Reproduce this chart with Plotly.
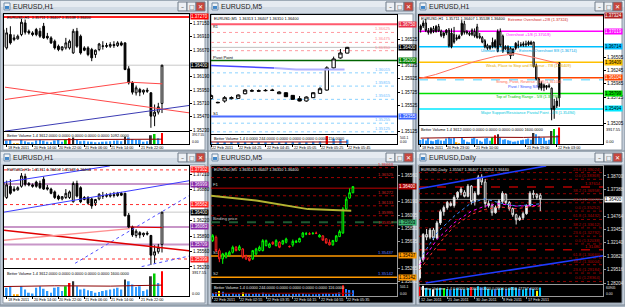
import plotly.graph_objects as go

# ============================== DATA ==============================
# ---- EURUSD H1 : 55 hourly bars (the first 12 only appear in the upper-right window)
h1_open = [1.37050, 1.37120, 1.37180, 1.37030, 1.36990, 1.37070, 1.37010, 1.37110, 1.37020, 1.36930, 1.36980, 1.37040,
           1.36712, 1.36952, 1.36862, 1.36874, 1.36952, 1.37162, 1.37012, 1.36982, 1.37042, 1.37012, 1.37102, 1.36922,
           1.36892, 1.36832, 1.36742, 1.36682, 1.36712, 1.36712, 1.36622, 1.37012, 1.36922, 1.36712, 1.36712, 1.36682,
           1.36592, 1.36682, 1.36742, 1.36754, 1.36742, 1.36772, 1.36754, 1.36802, 1.36802, 1.36334, 1.36082, 1.35902,
           1.35962, 1.35914, 1.35950, 1.35902, 1.35482, 1.35554, 1.35711]
h1_high = [1.37150, 1.37230, 1.37260, 1.37080, 1.37100, 1.37120, 1.37140, 1.37160, 1.37050, 1.37010, 1.37060, 1.37080,
           1.37072, 1.37102, 1.36952, 1.36952, 1.37234, 1.37222, 1.37042, 1.37012, 1.37072, 1.37072, 1.37162, 1.36982,
           1.36922, 1.36862, 1.36772, 1.36742, 1.36892, 1.36862, 1.37054, 1.37072, 1.36952, 1.36742, 1.36742, 1.36712,
           1.36682, 1.36802, 1.36832, 1.36802, 1.36814, 1.36832, 1.36832, 1.36832, 1.36814, 1.36382, 1.36112, 1.36034,
           1.35992, 1.35962, 1.35992, 1.35914, 1.35692, 1.35722, 1.36407]
h1_low = [1.36990, 1.37080, 1.37000, 1.36950, 1.36960, 1.36980, 1.36990, 1.37000, 1.36900, 1.36880, 1.36940, 1.36700,
          1.36682, 1.36772, 1.36832, 1.36862, 1.36922, 1.36952, 1.36952, 1.36922, 1.36922, 1.36892, 1.36874, 1.36862,
          1.36782, 1.36682, 1.36652, 1.36652, 1.36682, 1.36682, 1.36604, 1.36712, 1.36592, 1.36652, 1.36562, 1.36472,
          1.36532, 1.36652, 1.36682, 1.36712, 1.36712, 1.36712, 1.36730, 1.36742, 1.36310, 1.36052, 1.35872, 1.35854,
          1.35842, 1.35872, 1.35902, 1.35272, 1.35302, 1.35512, 1.35538]
h1_close = [1.37120, 1.37180, 1.37030, 1.36990, 1.37070, 1.37010, 1.37110, 1.37020, 1.36930, 1.36980, 1.37040, 1.36730,
            1.36982, 1.36802, 1.36892, 1.36922, 1.37174, 1.36994, 1.36982, 1.36952, 1.36952, 1.36922, 1.36892, 1.36892,
            1.36802, 1.36712, 1.36682, 1.36730, 1.36802, 1.36832, 1.37012, 1.36742, 1.36622, 1.36670, 1.36592, 1.36532,
            1.36670, 1.36782, 1.36745, 1.36742, 1.36772, 1.36754, 1.36802, 1.36762, 1.36322, 1.36082, 1.35914, 1.35992,
            1.35914, 1.35950, 1.35932, 1.35482, 1.35554, 1.35650, 1.36400]
h1_volume = [900, 1100, 800, 1300, 700, 600, 900, 1000, 800, 700, 1200, 1500,
             1200, 1340, 240, 150, 1440, 960, 480, 380, 1200, 1440, 1060, 720, 480, 1200, 1340, 720, 1440, 1920,
             2160, 1440, 960, 1060, 860, 720, 480, 580, 720, 860, 960, 1060, 1200, 960, 2400, 2160, 1680, 1340,
             1440, 720, 960, 2880, 3300, 1920, 3612]
h1_vol_kind = ("bbbbbbbbbbbb" "bbyy" "bbbbbbbbbbbb" "grk" "bbbbbbbbbbbbb" "k" "bbbbbb" "kgbr")
h1_vol_ma_idx = [0, 12, 25, 40, 54]
h1_vol_ma = [1300, 1400, 1500, 1450, 1600]
h1_hdr = "EURUSD,H1  1.35711 1.36407 1.35538 1.36400"
h1_last = 1.36400
h1_ticks_a = [12, 19, 26, 33, 40, 48]
h1_labels_a = ["18 Feb 2011", "20 Feb 14:00", "20 Feb 22:00", "21 Feb 06:00", "21 Feb 14:00", "21 Feb 22:00"]
h1_ticks_b = [0, 10, 21, 41, 53]
h1_labels_b = ["18 Feb 2011", "20 Feb 23:00", "21 Feb 10:00", "21 Feb 19:00", "22 Feb 03:00"]

# ---- EURUSD M5 : 43 bars
m5_open = [1.35649, 1.35695, 1.35511, 1.35396, 1.35419, 1.35450, 1.35488, 1.35557, 1.35520, 1.35534, 1.35442, 1.35410,
           1.35396, 1.35465, 1.35511, 1.35511, 1.35580, 1.35557, 1.35626, 1.35580, 1.35626, 1.35603, 1.35626,
           1.35570, 1.35590, 1.35625, 1.35630, 1.35700, 1.35740, 1.35745, 1.35745, 1.35755, 1.35700, 1.35715,
           1.35675, 1.35625, 1.35590, 1.35640, 1.35705, 1.35755, 1.36090, 1.36240, 1.36313]
m5_high = [1.35740, 1.35720, 1.35540, 1.35480, 1.35490, 1.35510, 1.35580, 1.35575, 1.35590, 1.35545, 1.35455, 1.35430,
           1.35520, 1.35550, 1.35580, 1.35670, 1.35665, 1.35620, 1.35640, 1.35670, 1.35640, 1.35660, 1.35690,
           1.35580, 1.35665, 1.35660, 1.35690, 1.35770, 1.35770, 1.35765, 1.35770, 1.35775, 1.35740, 1.35725,
           1.35680, 1.35665, 1.35660, 1.35725, 1.35800, 1.36115, 1.36260, 1.36375, 1.36407]
m5_low = [1.35630, 1.35490, 1.35350, 1.35327, 1.35400, 1.35430, 1.35470, 1.35500, 1.35505, 1.35400, 1.35380, 1.35360,
          1.35380, 1.35450, 1.35500, 1.35500, 1.35570, 1.35545, 1.35590, 1.35570, 1.35545, 1.35590, 1.35610,
          1.35555, 1.35565, 1.35615, 1.35625, 1.35690, 1.35725, 1.35730, 1.35735, 1.35740, 1.35695, 1.35650,
          1.35610, 1.35585, 1.35580, 1.35635, 1.35700, 1.35745, 1.36080, 1.36230, 1.36310]
m5_close = [1.35718, 1.35511, 1.35396, 1.35465, 1.35474, 1.35488, 1.35557, 1.35511, 1.35565, 1.35419, 1.35396, 1.35373,
            1.35511, 1.35534, 1.35557, 1.35649, 1.35649, 1.35603, 1.35603, 1.35649, 1.35557, 1.35649, 1.35672,
            1.35565, 1.35640, 1.35640, 1.35680, 1.35755, 1.35745, 1.35740, 1.35750, 1.35750, 1.35725, 1.35655,
            1.35615, 1.35590, 1.35650, 1.35715, 1.35775, 1.36090, 1.36225, 1.36315, 1.36400]
m5_volume = [130, 160, 210, 180, 110, 90, 120, 80, 100, 150, 130, 110, 90, 120, 100, 140, 90, 80, 70, 90, 110, 80, 90,
             80, 100, 90, 110, 120, 70, 60, 70, 60, 90, 110, 120, 100, 90, 130, 150, 450, 300, 260, 244]
m5_vol_kind = ("bbybbbbbbybbbbbbbbbbbbb" "bbbbbbbbbbbbbbbbrbbb")
m5_vol_ma_idx = [0, 20, 42]
m5_vol_ma = [118, 112, 116]
m5_hdr = "EURUSD,M5  1.36313 1.36407 1.36310 1.36400"
m5_ticks_a = [22, 26, 30, 34, 38, 42]
m5_labels_a = ["22 Feb 2011", "22 Feb 04:25", "22 Feb 04:45", "22 Feb 05:05", "22 Feb 05:25", "22 Feb 05:45"]
m5_ticks_b = [0, 8, 16, 24, 32, 40]
m5_labels_b = ["22 Feb 2011", "22 Feb 02:55", "22 Feb 03:35", "22 Feb 04:15", "22 Feb 04:55", "22 Feb 05:35"]

# ---- EURUSD Daily : 36 bars
d_open = [1.2870, 1.3050, 1.3296, 1.3270, 1.3340, 1.3263, 1.3410, 1.3520, 1.3560, 1.3600, 1.3580, 1.3660,
          1.3710, 1.3710, 1.3670, 1.3770, 1.3620, 1.3690, 1.3860, 1.3810, 1.3600, 1.3580, 1.3510, 1.3560,
          1.3620, 1.3690, 1.3610, 1.3550, 1.3490, 1.3440, 1.3460, 1.3500, 1.3580, 1.3700, 1.3690, 1.3680]
d_high = [1.3080, 1.3310, 1.3350, 1.3360, 1.3360, 1.3430, 1.3540, 1.3580, 1.3625, 1.3620, 1.3680, 1.3720,
          1.3760, 1.3730, 1.3790, 1.3780, 1.3720, 1.3880, 1.3886, 1.3840, 1.3630, 1.3600, 1.3580, 1.3640,
          1.3720, 1.3700, 1.3625, 1.3560, 1.3500, 1.3480, 1.3520, 1.3590, 1.3720, 1.3730, 1.3700, 1.3700]
d_low = [1.2853, 1.3030, 1.3240, 1.3250, 1.3240, 1.3250, 1.3390, 1.3480, 1.3540, 1.3570, 1.3560, 1.3640,
         1.3680, 1.3660, 1.3660, 1.3590, 1.3580, 1.3680, 1.3780, 1.3560, 1.3560, 1.3480, 1.3500, 1.3540,
         1.3600, 1.3590, 1.3530, 1.3470, 1.3394, 1.3430, 1.3440, 1.3490, 1.3570, 1.3650, 1.3640, 1.3525]
d_close = [1.3050, 1.3296, 1.3270, 1.3340, 1.3263, 1.3410, 1.3520, 1.3560, 1.3610, 1.3580, 1.3660, 1.3710,
           1.3740, 1.3670, 1.3770, 1.3620, 1.3700, 1.3860, 1.3810, 1.3600, 1.3580, 1.3510, 1.3560, 1.3625,
           1.3700, 1.3610, 1.3550, 1.3490, 1.3440, 1.3460, 1.3500, 1.3580, 1.3700, 1.3690, 1.3660, 1.3640]
d_volume = [52000, 58000, 45000, 40000, 38000, 42000, 47000, 44000, 39000, 35000, 41000, 43000, 40000, 38000,
            45000, 50000, 42000, 55000, 48000, 52000, 40000, 36000, 38000, 42000, 45000, 40000, 44000, 50000,
            47000, 38000, 36000, 42000, 45000, 40000, 30000, 47757]
d_vol_kind = ("rwccwccgcb" "ccbccrccbc" "ccbccbcccb" "ccbcyc")
d_hdr = "EURUSD,Daily  1.35567 1.36407 1.35254 1.36440"
d_ticks = [0, 8, 16, 24, 31]
d_labels = ["12 Jan 2011", "21 Jan 2011", "30 Jan 2011", "8 Feb 2011", "17 Feb 2011"]

# ---- indicator objects
w1_top_level = 1.37270
w1_red1 = ([11.55, 61.3], [1.36004, 1.35542])
w1_red2 = ([11.55, 45.3, 54.1], [1.35782, 1.36094, 1.36064])
w1_blue = ([11.55, 61.3], [1.35212, 1.35674])
w1_ticks = [1.37150, 1.36910, 1.36670, 1.36190, 1.35950, 1.35710, 1.35470, 1.35230]

w2_r1, w2_pivot, w2_s1 = 1.36750, 1.36200, 1.35355
w2_upper_dots = [1.36625, 1.36475, 1.36350]
w2_lower_dots = [1.36015, 1.35815, 1.35615, 1.35255, 1.35125]
w2_ma_dark = ([22.0, 31.3], [1.36125, 1.36090])
w2_ma_light = ([31.3, 34.5, 41.6], [1.36090, 1.36065, 1.36065])
w2_ticks = [1.36525, 1.36125, 1.35925, 1.35725, 1.35525, 1.35125]

w3_levels = [1.37324, 1.37019, 1.36714, 1.36409, 1.36104, 1.35799, 1.35494]
w3_names = ["Extreme Overshoot +2/8", "Overshoot +1/8", "Ultimate Resistance - Extreme Overshoot 8/8",
            "Weak, Place to Stop and Reverse - 7/8", "Strong, Pivot, Reverse - 6/8",
            "Top of Trading Range - 5/8", "Major Support/Resistance Pivotal Point - 4/8"]
w3_label_pos = [46, 42, 42, 42, 42, 42, 42]
w3_dashed = 1.36065
w3_ma = ([-0.4, 5.8, 13.6, 21.4, 29.2, 37.0, 42.2, 47.4, 53.9],
         [1.36091, 1.36169, 1.36299, 1.36428, 1.36526, 1.36578, 1.36526, 1.36461, 1.36383])
w3_ticks = [1.36505, 1.36245, 1.35985, 1.35725, 1.35205]

w4_red_levels = [1.37302, 1.36562, 1.35399]
w4_purple_levels = [1.36999, 1.36083, 1.35709]
w4_blue_solid = [([11.3, 39.9], [1.37034, 1.37387]), ([11.3, 61.3], [1.36400, 1.37070])]
w4_blue_dotted = [([30.5, 61.3], [1.35307, 1.36752]), ([48.5, 61.3], [1.35237, 1.35462])]
w4_red_thick = ([11.3, 61.3], [1.36012, 1.35575])
w4_salmon = ([11.3, 45.3], [1.35801, 1.36048])
w4_red_thin = ([45.3, 54.1], [1.36083, 1.36069])
w4_ticks = [1.37210, 1.36880, 1.36220, 1.35890, 1.35560, 1.35230]

w5_red_dots = [1.36663, 1.36525, 1.36272, 1.36133, 1.35995, 1.35857]
w5_f1 = 1.36378
w5_binding = 1.35903
w5_s1, w5_s2 = 1.35437, 1.35142
w5_ma = ([-0.5, 13.5, 28.5, 41.5], [1.36272, 1.36203, 1.36087, 1.36064])
w5_ticks = [1.36560, 1.36190, 1.36005, 1.35820, 1.35635, 1.35265, 1.35080]

w6_fib_levels = [1.39024, 1.38368, 1.37614, 1.36958, 1.36072, 1.35252, 1.34432, 1.33612, 1.32792, 1.32038,
                 1.31480, 1.30660, 1.30004, 1.29184, 1.28364]
w6_fib_names = ["23.6", "0.0", "", "38.2", "23.6", "0.0", "61.8", "38.2", "23.6", "0.0", "", "61.8", "38.2", "23.6", "0.0"]
w6_upper = ([-0.2, 36.7], [1.37450, 1.39680])
w6_lower = ([1.75, 53.2], [1.28200, 1.30890])
w6_ma_idx = [0, 5, 10, 15, 19, 23, 28, 32, 35]
w6_ma_blue = [1.30496, 1.33120, 1.34760, 1.36072, 1.36466, 1.36072, 1.35744, 1.35908, 1.35974]
w6_ma_magenta = [1.30004, 1.32464, 1.34104, 1.35252, 1.35744, 1.35974, 1.35744, 1.35744, 1.35810]
w6_ma_red = [1.29512, 1.31808, 1.33776, 1.34924, 1.35416, 1.35678, 1.35482, 1.35678, 1.35744]
w6_ticks = [1.38700, 1.37388, 1.34764, 1.33452, 1.32140, 1.30828, 1.29516, 1.28204]

# ============================== FIGURE ==============================
FW, FH = 625, 307
FONT = "Liberation Sans"
TS = 4.5
DS = 3.8   # date-label size
HS = 3.9   # header size


def fx(p):
    return p / FW


def fy(p):
    return 1 - p / FH


def aid(i):
    return '' if i == 1 else str(i)


layout = dict(width=FW, height=FH, margin=dict(l=0, r=0, t=0, b=0, pad=0),
              paper_bgcolor='#a9b4c1', plot_bgcolor='rgba(0,0,0,0)', showlegend=False,
              font=dict(family=FONT, size=TS), hovermode=False)
shapes, annotations, traces = [], [], []


def text(t, x, y, xref='paper', yref='paper', xanchor='left', yanchor='middle', size=TS, color='#000000',
         bg=None, family=FONT):
    a = dict(text=t, x=x, y=y, xref=xref, yref=yref, xanchor=xanchor, yanchor=yanchor, showarrow=False,
             font=dict(family=family, size=size, color=color), borderpad=0)
    if bg:
        a['bgcolor'] = bg
    annotations.append(a)


def prect(x0, y0, x1, y1, fill, line=None):
    shapes.append(dict(type='rect', xref='paper', yref='paper', x0=fx(x0), x1=fx(x1), y0=fy(y1), y1=fy(y0),
                       fillcolor=fill, line=dict(color=line or fill, width=1 if line else 0), layer='below'))


# ---- window chrome
windows = [(0, 0, 208, 153, "EURUSD,H1", False), (208, 0, 416, 153, "EURUSD,M5", False),
           (416, 0, 625, 153, "EURUSD,H1", False), (0, 152, 208, 307, "EURUSD,H1", False),
           (208, 152, 416, 307, "EURUSD,M5", True), (416, 152, 625, 307, "EURUSD,Daily", True)]
for (x0, y0, x1, y1, title, dark) in windows:
    prect(x0, y0, x1, y1, '#c3cdd9', '#7d8995')
    prect(x0 + 1, y0 + 1, x1 - 1, y0 + 7, '#e6ebf1')
    prect(x0 + 1, y0 + 7, x1 - 1, y0 + 13, '#d2dbe5')
    prect(x0 + 3, y0 + 14, x1 - 3, y1 - 2, '#000000' if dark else '#ffffff', '#8e99a5')
    prect(x0 + 4, y0 + 3, x0 + 10, y0 + 10, '#f4f6f8', '#6f8aa6')
    prect(x0 + 5, y0 + 6, x0 + 9, y0 + 9, '#3f86c9')
    text(title, fx(x0 + 12), fy(y0 + 7), size=7, color='#1e1e1e')
    for bx, col, glyph, gc in ((x1 - 30, '#edf0f4', '–', '#333333'), (x1 - 21, '#edf0f4', '□', '#333333'),
                               (x1 - 12, '#c8473e', '✕', '#ffffff')):
        prect(bx, y0 + 2, bx + 9, y0 + 11, col, '#6e7a88')
        text(glyph, fx(bx + 4.5), fy(y0 + 6.5), xanchor='center', size=6, color=gc, family='DejaVu Sans')

VCOL_LIGHT = {'b': '#2f9bff', 'g': '#00cc00', 'r': '#ff0000', 'k': '#303030', 'y': '#ffa500', 'w': '#ffffff',
              'c': '#00bfff'}
VCOL_DARK = {'b': '#1e78ff', 'g': '#00ff00', 'r': '#ff0000', 'k': '#c0c0c0', 'y': '#ffff00', 'w': '#ffffff',
             'c': '#00c8ff'}


def add_panel(n, geo, xr, yr, vr, vtext, yticks, dticks, dlabels, dark):
    x0, x1, py0, py1, vy0, vy1 = geo
    pi, vi = 2 * n + 1, 2 * n + 2
    fg = '#e6e6e6' if dark else '#000000'
    frame = '#9a9a9a' if dark else '#000000'
    base = dict(showgrid=False, zeroline=False, showline=True, mirror=True, linecolor=frame, linewidth=1,
                fixedrange=True)
    tf = dict(family=FONT, size=TS, color=fg)
    layout['xaxis' + aid(pi)] = dict(base, domain=[fx(x0), fx(x1)], range=xr, anchor='y' + aid(pi),
                                     showticklabels=False, ticks='', rangeslider=dict(visible=False))
    layout['yaxis' + aid(pi)] = dict(base, domain=[fy(py1), fy(py0)], range=yr, anchor='x' + aid(pi),
                                     side='right', tickmode='array', tickvals=yticks,
                                     ticktext=[f'{t:.5f}' for t in yticks], ticks='outside', ticklen=2,
                                     tickcolor=frame, tickfont=tf)
    layout['xaxis' + aid(vi)] = dict(base, domain=[fx(x0), fx(x1)], range=xr, anchor='y' + aid(vi),
                                     showticklabels=False, tickmode='array', tickvals=dticks, ticks='outside',
                                     ticklen=2, tickcolor=frame)
    layout['yaxis' + aid(vi)] = dict(base, domain=[fy(vy1), fy(vy0)], range=vr, anchor='x' + aid(vi),
                                     side='right', showticklabels=False, ticks='')
    # volume scale labels (top value and zero)
    vs = 3.4 if (vy1 - vy0) < 14 else 3.9
    text(vtext, fx(x1 + 2), fy(vy0 - 0.3), yanchor='top', size=vs, color=fg)
    text('0.00', fx(x1 + 2), fy(vy1 + 0.6), yanchor='bottom', size=vs, color=fg)
    for t, lab in zip(dticks, dlabels):
        text(lab, t, fy(vy1 + 0.8), xref='x' + aid(vi), yanchor='top', size=DS, color=fg)
    return dict(xp='x' + aid(pi), yp='y' + aid(pi), xv='x' + aid(vi), yv='y' + aid(vi), xr=xr, x0=x0, x1=x1,
                py0=py0, vy0=vy0, fg=fg, dark=dark)


def candles(g, o, h, l, c, inc_line, inc_fill, dec_line, dec_fill):
    traces.append(go.Candlestick(x=list(range(len(o))), open=o, high=h, low=l, close=c, xaxis=g['xp'],
                                 yaxis=g['yp'], whiskerwidth=0,
                                 increasing=dict(line=dict(color=inc_line, width=1), fillcolor=inc_fill),
                                 decreasing=dict(line=dict(color=dec_line, width=1), fillcolor=dec_fill)))


def volume(g, v, kinds, bw, ma=None, hdr=''):
    cmap = VCOL_DARK if g['dark'] else VCOL_LIGHT
    traces.append(go.Bar(x=list(range(len(v))), y=v, width=bw, marker=dict(color=[cmap[k] for k in kinds],
                                                                            line=dict(width=0)),
                         xaxis=g['xv'], yaxis=g['yv']))
    if ma:
        traces.append(go.Scatter(x=ma[0], y=ma[1], mode='lines', line=dict(color='#8b0000', width=1),
                                 xaxis=g['xv'], yaxis=g['yv']))
    text(hdr, fx(g['x0'] + 1.5), fy(g['vy0'] + 0.3), yanchor='top', size=HS, color=g['fg'])


def hline(g, level, color, width=1, dash='solid'):
    shapes.append(dict(type='line', xref=g['xp'], yref=g['yp'], x0=g['xr'][0], x1=g['xr'][1], y0=level,
                       y1=level, line=dict(color=color, width=width, dash=dash), layer='below'))


def pline(g, xs, ys, color, width=1, dash='solid'):
    traces.append(go.Scatter(x=xs, y=ys, mode='lines', line=dict(color=color, width=width, dash=dash),
                             xaxis=g['xp'], yaxis=g['yp']))


def pbox(g, level, bg, fc='#ffffff', label=None):
    text(label or f'{level:.5f}', fx(g['x1'] + 1), level, yref=g['yp'], color=fc, bg=bg)


def header(g, t):
    text(t, fx(g['x0'] + 1.5), fy(g['py0'] + 0.2), yanchor='top', size=HS, color=g['fg'])


def ltext(g, t, x, y, color, xanchor='left', yanchor='bottom', size=TS):
    text(t, x, y, xref=g['xp'], yref=g['yp'], xanchor=xanchor, yanchor=yanchor, color=color, size=size)


# ---------------- window 1 : H1 white ----------------
g1 = add_panel(0, (4, 189, 14, 132, 133, 145), [11.28, 61.3], [1.35212, 1.37324], [0, 3917.55], '3917.55',
               w1_ticks, h1_ticks_a, h1_labels_a, False)
hline(g1, w1_top_level, '#ff2020', 2)
hline(g1, h1_last, '#c8c8c8', 1)
pline(g1, *w1_red1, '#ff4848', 1)
pline(g1, *w1_red2, '#ff4848', 1)
pline(g1, *w1_blue, '#3c3cb4', 1)
candles(g1, h1_open, h1_high, h1_low, h1_close, '#000000', '#ffffff', '#000000', '#000000')
volume(g1, h1_volume, h1_vol_kind, 0.5, (h1_vol_ma_idx, h1_vol_ma),
       "Better Volume 1.4 3612.0000 0.0000 0.0000 0.0000 0.0000 1092.0000")
header(g1, h1_hdr)
pbox(g1, w1_top_level, '#ff0000')
pbox(g1, h1_last, '#000000')

# ---------------- window 2 : M5 white ----------------
g2 = add_panel(1, (211, 397, 15, 135, 136, 145), [22.0, 49.3], [1.35090, 1.36890], [0, 501.1], '501.1',
               w2_ticks, m5_ticks_a, m5_labels_a, False)
hline(g2, w2_r1, '#ff5a6e', 2)
for lv in w2_upper_dots:
    hline(g2, lv, '#ff9aa0', 1, 'dot')
    ltext(g2, f'{lv:.5f}', 48.6, lv, '#ff8c96', xanchor='right', size=4.2)
hline(g2, h1_last, '#c0c0c0', 1)
hline(g2, w2_pivot, '#006400', 1.5)
for lv in w2_lower_dots:
    hline(g2, lv, '#8cd2ff', 1, 'dot')
    ltext(g2, f'{lv:.5f}', 48.6, lv, '#6ec0ff', xanchor='right', size=4.2)
hline(g2, w2_s1, '#4a6cff', 2)
pline(g2, *w2_ma_dark, '#4646ff', 1.5)
pline(g2, *w2_ma_light, '#b0b0ff', 2)
candles(g2, m5_open, m5_high, m5_low, m5_close, '#000000', '#ffffff', '#000000', '#000000')
volume(g2, m5_volume, m5_vol_kind, 0.35, (m5_vol_ma_idx, m5_vol_ma),
       "Better Volume 1.4 0.0000 244.0000 0.0000 0.0000 0.0000 0.0000 116.0000")
header(g2, m5_hdr)
ltext(g2, "R1", 22.2, w2_r1, '#000000', yanchor='top', size=3.8)
ltext(g2, "Pivot Point", 22.2, w2_pivot, '#000000', size=4.2)
ltext(g2, "S1", 22.2, w2_s1, '#000000', size=4.2)
pbox(g2, w2_r1, '#e8304a')
pbox(g2, h1_last, '#000000')
pbox(g2, w2_pivot, '#008000')
pbox(g2, w2_s1, '#3c64ff')

# ---------------- window 3 : H1 Murrey ----------------
g3 = add_panel(2, (419, 603, 15, 126, 127, 145), [-0.65, 71.0], [1.35176, 1.37337], [0, 3917.55], '3917.55',
               w3_ticks, h1_ticks_b, h1_labels_b, False)
w3_colors = ['#b22222', '#ff00ff', '#00bfff', '#ffc000', '#ff4500', '#00e000', '#00e8ff']
w3_text_colors = ['#d02020', '#ff00ff', '#00a8e8', '#e0a800', '#ff6a50', '#00c000', '#00c8e0']
w3_box_font = ['#ffffff', '#ffffff', '#000000', '#000000', '#ffffff', '#000000', '#000000']
for lv, c in zip(w3_levels, w3_colors):
    hline(g3, lv, c, 1.5)
hline(g3, w3_dashed, '#80e0ff', 1.5, 'dash')
pline(g3, *w3_ma, '#ff7060', 1)
candles(g3, h1_open, h1_high, h1_low, h1_close, '#000000', '#000000', '#000000', '#ffffff')
volume(g3, h1_volume, h1_vol_kind, 0.55, (h1_vol_ma_idx, h1_vol_ma),
       "Better Volume 1.4 3612.0000 0.0000 0.0000 0.0000 0.0000 1600.0000")
header(g3, h1_hdr)
for lv, nm, tc, xp in zip(w3_levels, w3_names, w3_text_colors, w3_label_pos):
    ltext(g3, f'{nm} ({lv:.5f})', xp, lv, tc, xanchor='center', yanchor='top', size=3.9)
ltext(g3, "Pivot / Strong S/R", 40, 1.36000, '#3050ff', xanchor='center', yanchor='top', size=3.9)
for lv, c, fc in zip(w3_levels, w3_colors, w3_box_font):
    pbox(g3, lv, c, fc)

# ---------------- window 4 : H1 channels ----------------
g4 = add_panel(3, (4, 189, 167, 270, 271, 298), [11.28, 61.3], [1.35202, 1.37387], [0, 3917.55], '3917.55',
               w4_ticks, h1_ticks_a, h1_labels_a, False)
for lv in w4_red_levels:
    hline(g4, lv, '#ff3030', 1, 'dot')
for lv in w4_purple_levels:
    hline(g4, lv, '#c896c8', 2)
hline(g4, h1_last, '#c8c8c8', 1)
for xs, ys in w4_blue_solid:
    pline(g4, xs, ys, '#3c3cff', 1)
for xs, ys in w4_blue_dotted:
    pline(g4, xs, ys, '#5050ff', 1, 'dot')
pline(g4, *w4_red_thick, '#e00000', 1.5)
pline(g4, *w4_salmon, '#ff9090', 1.5)
pline(g4, *w4_red_thin, '#e00000', 1)
candles(g4, h1_open, h1_high, h1_low, h1_close, '#000000', '#ffffff', '#000000', '#000000')
volume(g4, h1_volume, h1_vol_kind, 0.5, (h1_vol_ma_idx, h1_vol_ma),
       "Better Volume 1.4 3612.0000 0.0000 0.0000 0.0000 0.0000 1600.0000")
header(g4, "EURUSD,H1  1.35711 1.36407 1.35538 1.36403")
for lv in w4_red_levels:
    pbox(g4, lv, '#ff2020')
for lv in w4_purple_levels:
    pbox(g4, lv, '#8b2aa8')
pbox(g4, h1_last, '#000000')

# ---------------- window 5 : M5 black ----------------
g5 = add_panel(4, (211, 397, 167, 285, 286, 298), [-0.5, 55.2], [1.35059, 1.36687], [0, 501.1], '501.1',
               w5_ticks, m5_ticks_b, m5_labels_b, True)
for lv in w5_red_dots:
    hline(g5, lv, '#a00000', 1, 'dot')
    ltext(g5, f'{lv:.5f}', 54.6, lv, '#d02020', xanchor='right', size=4.2)
hline(g5, w5_f1, '#c00000', 1)
hline(g5, w5_binding, '#1e5a32', 2, 'dash')
hline(g5, w5_s1, '#ff9900', 1.5)
hline(g5, w5_s2, '#ff9900', 1.5)
pline(g5, *w5_ma, '#b4b432', 2)
candles(g5, m5_open, m5_high, m5_low, m5_close, '#00ff00', '#000000', '#ff2020', '#000000')
volume(g5, m5_volume, m5_vol_kind, 0.4, (m5_vol_ma_idx, m5_vol_ma),
       "Better Volume 1.4 0.0000 244.0000 0.0000 0.0000 0.0000 0.0000 116.0000")
header(g5, m5_hdr)
ltext(g5, "F1", -0.2, w5_f1, '#d0d0d0', size=4.2)
ltext(g5, "Binding price", -0.2, w5_binding, '#d0d0d0', size=4.2)
ltext(g5, "S1", -0.2, w5_s1, '#d0d0d0', size=4.2)
ltext(g5, "S2", -0.2, w5_s2, '#d0d0d0', size=4.2)
ltext(g5, f'{w5_s1:.5f}', 54.6, w5_s1, '#5a7cff', xanchor='right', size=4.2)
ltext(g5, f'{w5_s2:.5f}', 54.6, w5_s2, '#5a7cff', xanchor='right', size=4.2)
pbox(g5, h1_last, '#b00000')
pbox(g5, w5_binding, '#3cb371', '#000000')
pbox(g5, w5_s1, '#ff9900', '#000000')
pbox(g5, w5_s2, '#ff9900', '#000000')

# ---------------- window 6 : Daily black ----------------
g6 = add_panel(5, (419, 603, 167, 286, 287, 298), [-0.2, 53.2], [1.2810, 1.3968], [0, 60905], '60905',
               w6_ticks, d_ticks, d_labels, True)
for lv, nm in zip(w6_fib_levels, w6_fib_names):
    if nm:
        hline(g6, lv, '#8b0000', 1, 'dot')
        ltext(g6, f'{nm} ({lv:.5f})', 52.8, lv, '#b00000', xanchor='right', size=4.2)
    else:
        hline(g6, lv, '#b00000', 1.5, 'dash')
        ltext(g6, f'{lv:.5f}', 52.8, lv, '#c00000', xanchor='right', size=4.2)
hline(g6, h1_last, '#909090', 1)
pline(g6, *w6_upper, '#1e3cff', 1.5)
pline(g6, *w6_lower, '#1e3cff', 1.5)
pline(g6, w6_ma_idx, w6_ma_blue, '#3c8cff', 1, 'dot')
pline(g6, w6_ma_idx, w6_ma_magenta, '#ff00ff', 1, 'dot')
pline(g6, w6_ma_idx, w6_ma_red, '#ff3030', 1, 'dot')
candles(g6, d_open, d_high, d_low, d_close, '#e0e0e0', '#ffffff', '#e0e0e0', '#000000')
volume(g6, d_volume, d_vol_kind, 0.45, None,
       "Better Volume 1.4 0.0000 0.0000 0.0000 0.0000 0.0000 47757.0000")
header(g6, d_hdr)
pbox(g6, h1_last, '#ffffff', '#000000')

layout['shapes'] = shapes
layout['annotations'] = annotations
fig = go.Figure(data=traces, layout=layout)
fig.update_traces(hoverinfo='skip')
fig.write_html("out.html")
